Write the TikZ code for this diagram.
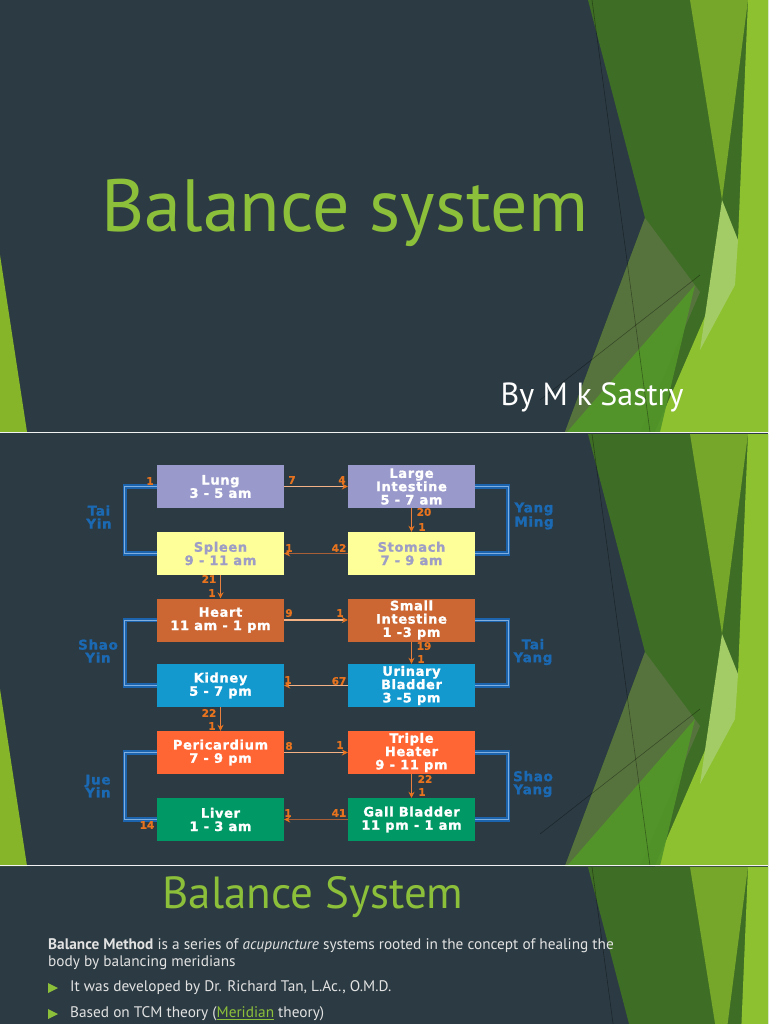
\documentclass[tikz,border=0pt]{standalone}
\usepackage{fontspec}
\setmainfont{PT Sans}
\newfontfamily\boxfont{DejaVu Sans}[LetterSpace=5,BoldFeatures={FakeBold=1.3}]
\newfontfamily\numfont{DejaVu Sans}[BoldFeatures={FakeBold=0.8}]
\usetikzlibrary{arrows.meta}
\definecolor{slate}{HTML}{2C3B43}
\definecolor{titlegreen}{HTML}{8DC03A}
\definecolor{gdark}{HTML}{3E6D25}
\definecolor{gmid}{HTML}{76A62A}
\definecolor{glight}{HTML}{8EC130}
\definecolor{gpale}{HTML}{A3CC66}
\definecolor{golive}{HTML}{5A7440}
\definecolor{gbot}{HTML}{529529}
\definecolor{gleft}{HTML}{86B52A}
\definecolor{lav}{HTML}{9999CC}
\definecolor{yel}{HTML}{FFFF99}
\definecolor{yeltext}{HTML}{9D9DC6}
\definecolor{heart}{HTML}{CC6633}
\definecolor{kid}{HTML}{1499CF}
\definecolor{peri}{HTML}{FF6633}
\definecolor{liv}{HTML}{009966}
\definecolor{brk}{HTML}{1C64AE}
\definecolor{brklight}{HTML}{7FAEDF}
\definecolor{lbl}{HTML}{1B69B3}
\definecolor{numc}{HTML}{E8731E}
\definecolor{peach}{HTML}{F4B183}
\definecolor{brown}{HTML}{A85E36}
\definecolor{varrow}{HTML}{E9803F}
\definecolor{bodytext}{HTML}{E2E2E2}
\newcommand\facetdecor[1]{%
\begin{scope}[shift={(0,#1)}]
\begin{scope}
\clip (0,0) rectangle (768,432);
\fill[gdark] (588,0) -- (768,0) -- (768,432) -- (565,432) -- (645,218) -- cycle;
\fill[golive,opacity=0.9] (645,218) -- (700,292) -- (640,432) -- (565,432) -- cycle;
\fill[gmid] (690,0) -- (748,0) -- (722,200) -- cycle;
\fill[glight] (748,0) -- (768,0) -- (768,432) -- (655,432) -- (738,240) -- cycle;
\fill[gpale] (722,200) -- (738,240) -- (735,285) -- (700,350) -- cycle;
\fill[gbot,opacity=0.95] (567,432) -- (695,285) -- (660,432) -- cycle;
\fill[gleft] (0,255) -- (27,432) -- (0,432) -- cycle;
\draw[black,opacity=0.35,line width=0.6pt] (592,0) -- (650,432);
\draw[black,opacity=0.35,line width=0.6pt] (540,400) -- (700,275);
\end{scope}
\end{scope}}
\begin{document}
\begin{tikzpicture}[x=1pt,y=-1pt,
  organ/.style={minimum width=127pt,minimum height=43pt,inner sep=0pt,align=center,text=white,
    font=\boxfont\bfseries\fontsize{13}{13.3}\selectfont},
  num/.style={text=numc,inner sep=0pt,font=\numfont\bfseries\fontsize{10.5}{11}\selectfont},
  meridian/.style={text=lbl,inner sep=0pt,align=center,font=\boxfont\bfseries\fontsize{13.5}{13}\selectfont},
  bracket/.style={draw=brk,double=brklight,double distance=1pt,line width=1.7pt},
  harrow/.style={draw=peach,line width=1.5pt,-{Stealth[length=6pt,width=6pt,color=numc]}},
  larrow/.style={draw=brown,line width=1.5pt,-{Stealth[length=6pt,width=6pt,color=numc]}},
  varr/.style={draw=varrow,line width=1.6pt,-{Stealth[length=6pt,width=6pt,color=numc]}},
  sep/.style={draw=white!90!gray,line width=1.4pt},
  body/.style={text=bodytext,inner sep=0pt,anchor=west,font=\fontsize{15.3}{17}\selectfont}]
\useasboundingbox (0,0) rectangle (768,1024);
\fill[slate] (0,0) rectangle (768,1024);
\facetdecor{0}
\facetdecor{434}
\facetdecor{867}
\coordinate (s1l) at (0,432.5);
\coordinate (s1r) at (768,432.5);
\coordinate (s2l) at (0,865.5);
\coordinate (s2r) at (768,865.5);
\draw[sep] (s1l) -- (s1r);
\draw[sep] (s2l) -- (s2r);
% slide 1
\node[text=titlegreen,inner sep=0pt,font=\fontsize{74}{80}\selectfont] (title1) at (345,213) {Balance system};
\node[text=white,inner sep=0pt,font=\fontsize{32}{34}\selectfont] (author) at (592,397) {By M k Sastry};
% slide 2 boxes
\node[organ,fill=lav] (lung) at (220.5,486.5) {Lung\\3 - 5 am};
\node[organ,fill=lav] (li) at (411.5,486.5) {Large\\Intestine\\5 - 7 am};
\node[organ,fill=yel,text=yeltext] (spleen) at (220.5,553.5) {Spleen\\9 - 11 am};
\node[organ,fill=yel,text=yeltext] (stomach) at (411.5,553.5) {Stomach\\7 - 9 am};
\node[organ,fill=heart] (heart) at (220.5,620) {Heart\\11 am - 1 pm};
\node[organ,fill=heart] (si) at (411.5,620) {Small\\Intestine\\1 -3 pm};
\node[organ,fill=kid] (kidney) at (220.5,685.5) {Kidney\\5 - 7 pm};
\node[organ,fill=kid] (ub) at (411.5,685.5) {Urinary\\Bladder\\3 -5 pm};
\node[organ,fill=peri] (peri) at (220.5,752.5) {Pericardium\\7 - 9 pm};
\node[organ,fill=peri] (th) at (411.5,752.5) {Triple\\Heater\\9 - 11 pm};
\node[organ,fill=liv] (liver) at (220.5,819.5) {Liver\\1 - 3 am};
\node[organ,fill=liv] (gb) at (411.5,819.5) {Gall Bladder\\11 pm - 1 am};
% brackets
\draw[bracket] (lung.west) -- ++(-32,0) |- (spleen.west);
\draw[bracket] (li.east) -- ++(33,0) |- (stomach.east);
\draw[bracket] (heart.west) -- ++(-32,0) |- (kidney.west);
\draw[bracket] (si.east) -- ++(33,0) |- (ub.east);
\draw[bracket] (peri.west) -- ++(-32,0) |- (liver.west);
\draw[bracket] (th.east) -- ++(33,0) |- (gb.east);
% meridian labels
\node[meridian] (m1) at (99,517) {Tai\\Yin};
\node[meridian] (m2) at (534,516) {Yang\\Ming};
\node[meridian] (m3) at (98,651) {Shao\\Yin};
\node[meridian] (m4) at (533,652) {Tai\\Yang};
\node[meridian] (m5) at (98,786) {Jue\\Yin};
\node[meridian] (m6) at (533,784) {Shao\\Yang};
% arrows
\draw[harrow] (lung.east) -- (li.west);
\draw[varr] (li.south) -- (stomach.north);
\draw[larrow] (stomach.west) -- (spleen.east);
\draw[varr] (spleen.south) -- (heart.north);
\draw[harrow] (heart.east) -- (si.west);
\draw[varr] (si.south) -- (ub.north);
\draw[harrow] (ub.west) -- (kidney.east);
\draw[varr] (kidney.south) -- (peri.north);
\draw[harrow] (peri.east) -- (th.west);
\draw[varr] (th.south) -- (gb.north);
\draw[larrow] (gb.west) -- (liver.east);
% numbers
\node[num] (n1) at (150,481) {1};
\node[num] (n7) at (292,480) {7};
\node[num] (n4) at (342,480) {4};
\node[num] (n20) at (424,512) {20};
\node[num] (n1b) at (422,527) {1};
\node[num] (n42) at (339,548) {42};
\node[num] (n1c) at (289,548) {1};
\node[num] (n21) at (209,579) {21};
\node[num] (n1d) at (212,593) {1};
\node[num] (n9) at (289,613) {9};
\node[num] (n1e) at (340,613) {1};
\node[num] (n19) at (424,646) {19};
\node[num] (n1f) at (421,659) {1};
\node[num] (n67) at (339,681) {67};
\node[num] (n1g) at (288,680) {1};
\node[num] (n22) at (209,713) {22};
\node[num] (n1h) at (212,726) {1};
\node[num] (n8) at (289,746) {8};
\node[num] (n1i) at (340,745) {1};
\node[num] (n22b) at (425,779) {22};
\node[num] (n1j) at (422,792) {1};
\node[num] (n41) at (339,813) {41};
\node[num] (n1k) at (288,813) {1};
\node[num] (n14) at (147,825) {14};
% slide 3
\node[text=titlegreen,inner sep=0pt,font=\fontsize{45}{50}\selectfont] (title3) at (313,897) {Balance System};
\node[body] (p1) at (48,946) {\textbf{Balance Method} is a series of \textit{acupuncture} systems rooted in the concept of healing the};
\node[body] (p2) at (48,963) {body by balancing meridians};
\fill[titlegreen] (48,983) -- (58,988) -- (48,993) -- cycle;
\node[body] (b1) at (70,988) {It was developed by Dr. Richard Tan, L.Ac., O.M.D.};
\fill[titlegreen] (48,1009) -- (58,1014) -- (48,1019) -- cycle;
\node[body] (b2) at (70,1014) {Based on TCM theory ({\color{titlegreen}\underline{Meridian}} theory)};
\end{tikzpicture}
\end{document}
